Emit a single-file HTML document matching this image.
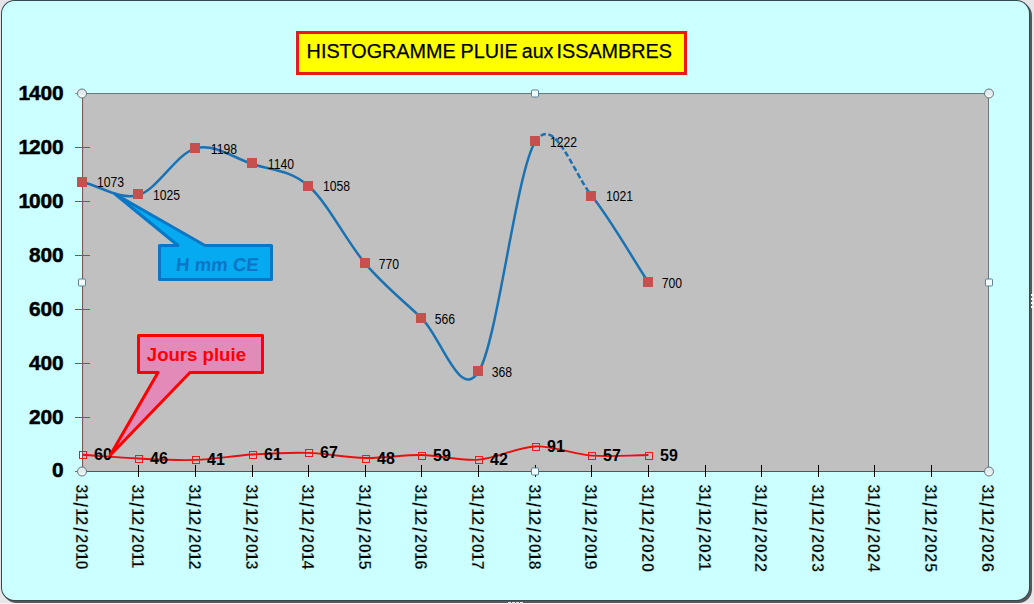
<!DOCTYPE html>
<html lang="fr"><head><meta charset="utf-8"><title>HISTOGRAMME PLUIE aux ISSAMBRES</title>
<style>
html,body{margin:0;padding:0;background:#e6e6e8;}
body{width:1034px;height:604px;overflow:hidden;position:relative;}
svg{position:absolute;left:0;top:0;display:block;}
text{font-family:"Liberation Sans",sans-serif;}
.ya{font-weight:bold;font-size:20.9px;fill:#000;stroke:#000;stroke-width:0.5px;}
.xa{font-weight:bold;font-size:16.4px;fill:#000;stroke:#ccffff;stroke-width:0.35px;}
.sl{font-size:19.5px;}
.bl{font-size:12.2px;fill:#000;}
.rl{font-size:16px;font-weight:bold;fill:#000;}
.tt{font-size:19.8px;fill:#000;stroke:#000;stroke-width:0.25px;}
</style></head><body>
<svg width="1034" height="604" viewBox="0 0 1034 604">

<defs><linearGradient id="hg" x1="0" y1="0" x2="0" y2="1"><stop offset="0" stop-color="#dfe9ec"/><stop offset="0.55" stop-color="#e4ecee"/><stop offset="1" stop-color="#ffffff"/></linearGradient></defs>
<rect x="0" y="0" width="1034" height="604" fill="#e6e6e8"/>
<rect x="0" y="603" width="1034" height="1" fill="#f4f4f4"/>
<rect x="3" y="2" width="1029" height="601" rx="13.5" ry="13.5" fill="#57575c"/>
<rect x="1" y="0" width="1029" height="601" rx="13.5" ry="13.5" fill="#33494e"/>
<rect x="2" y="1" width="1027" height="599" rx="12.5" ry="12.5" fill="#ccffff"/>
<rect x="83" y="94" width="905" height="377" fill="#c0c0c0"/>
<rect x="83" y="93" width="906" height="1" fill="#6a7878"/>
<rect x="988" y="93" width="1" height="379" fill="#6a7878"/>
<rect x="82" y="471" width="907" height="1" fill="#555"/>
<rect x="82" y="93" width="1" height="379" fill="#7a5858"/>
<rect x="83" y="94" width="1" height="377" fill="#c8b0b0"/>
<rect x="75" y="471" width="4" height="1" fill="#806868"/>
<text class="ya" x="51.94" y="476.9">0</text>
<rect x="75" y="417" width="15" height="1" fill="#d83030"/>
<text class="ya" x="28.94 40.44 51.94" y="423.9">200</text>
<rect x="75" y="363" width="15" height="1" fill="#d83030"/>
<text class="ya" x="28.94 40.44 51.94" y="369.9">400</text>
<rect x="75" y="309" width="15" height="1" fill="#d83030"/>
<text class="ya" x="28.94 40.44 51.94" y="315.9">600</text>
<rect x="75" y="255" width="15" height="1" fill="#d83030"/>
<text class="ya" x="28.94 40.44 51.94" y="261.9">800</text>
<rect x="75" y="201" width="15" height="1" fill="#d83030"/>
<text class="ya" x="18.44 28.94 40.44 51.94" y="207.9">1000</text>
<rect x="75" y="147" width="15" height="1" fill="#d83030"/>
<text class="ya" x="18.44 28.94 40.44 51.94" y="153.9">1200</text>
<rect x="75" y="93" width="4" height="1" fill="#d08080"/>
<text class="ya" x="18.44 28.94 40.44 51.94" y="99.9">1400</text>
<text class="xa" transform="translate(76.0 483.9) rotate(90)" x="0.24 8.59 18.14 23.99 32.34 43.14 50.24 59.84 68.19 76.54" y="0">31<tspan class="sl" dy="2.6">/</tspan><tspan dy="-2.6">12</tspan><tspan class="sl" dy="2.6">/</tspan><tspan dy="-2.6">2010</tspan></text>
<rect x="138" y="465" width="1" height="12" fill="#000"/>
<text class="xa" transform="translate(132.0 483.9) rotate(90)" x="0.24 8.59 18.14 23.99 32.34 43.14 50.24 59.84 68.19 75.29" y="0">31<tspan class="sl" dy="2.6">/</tspan><tspan dy="-2.6">12</tspan><tspan class="sl" dy="2.6">/</tspan><tspan dy="-2.6">2011</tspan></text>
<rect x="195" y="465" width="1" height="12" fill="#000"/>
<text class="xa" transform="translate(189.0 483.9) rotate(90)" x="0.24 8.59 18.14 23.99 32.34 43.14 50.24 59.84 68.19 76.54" y="0">31<tspan class="sl" dy="2.6">/</tspan><tspan dy="-2.6">12</tspan><tspan class="sl" dy="2.6">/</tspan><tspan dy="-2.6">2012</tspan></text>
<rect x="252" y="465" width="1" height="12" fill="#000"/>
<text class="xa" transform="translate(246.0 483.9) rotate(90)" x="0.24 8.59 18.14 23.99 32.34 43.14 50.24 59.84 68.19 76.54" y="0">31<tspan class="sl" dy="2.6">/</tspan><tspan dy="-2.6">12</tspan><tspan class="sl" dy="2.6">/</tspan><tspan dy="-2.6">2013</tspan></text>
<rect x="308" y="465" width="1" height="12" fill="#000"/>
<text class="xa" transform="translate(302.0 483.9) rotate(90)" x="0.24 8.59 18.14 23.99 32.34 43.14 50.24 59.84 68.19 76.54" y="0">31<tspan class="sl" dy="2.6">/</tspan><tspan dy="-2.6">12</tspan><tspan class="sl" dy="2.6">/</tspan><tspan dy="-2.6">2014</tspan></text>
<rect x="365" y="465" width="1" height="12" fill="#000"/>
<text class="xa" transform="translate(359.0 483.9) rotate(90)" x="0.24 8.59 18.14 23.99 32.34 43.14 50.24 59.84 68.19 76.54" y="0">31<tspan class="sl" dy="2.6">/</tspan><tspan dy="-2.6">12</tspan><tspan class="sl" dy="2.6">/</tspan><tspan dy="-2.6">2015</tspan></text>
<rect x="421" y="465" width="1" height="12" fill="#000"/>
<text class="xa" transform="translate(415.0 483.9) rotate(90)" x="0.24 8.59 18.14 23.99 32.34 43.14 50.24 59.84 68.19 76.54" y="0">31<tspan class="sl" dy="2.6">/</tspan><tspan dy="-2.6">12</tspan><tspan class="sl" dy="2.6">/</tspan><tspan dy="-2.6">2016</tspan></text>
<rect x="478" y="465" width="1" height="12" fill="#000"/>
<text class="xa" transform="translate(472.0 483.9) rotate(90)" x="0.24 8.59 18.14 23.99 32.34 43.14 50.24 59.84 68.19 76.54" y="0">31<tspan class="sl" dy="2.6">/</tspan><tspan dy="-2.6">12</tspan><tspan class="sl" dy="2.6">/</tspan><tspan dy="-2.6">2017</tspan></text>
<rect x="535" y="465" width="1" height="12" fill="#000"/>
<text class="xa" transform="translate(529.0 483.9) rotate(90)" x="0.24 8.59 18.14 23.99 32.34 43.14 50.24 59.84 68.19 76.54" y="0">31<tspan class="sl" dy="2.6">/</tspan><tspan dy="-2.6">12</tspan><tspan class="sl" dy="2.6">/</tspan><tspan dy="-2.6">2018</tspan></text>
<rect x="591" y="465" width="1" height="12" fill="#000"/>
<text class="xa" transform="translate(585.0 483.9) rotate(90)" x="0.24 8.59 18.14 23.99 32.34 43.14 50.24 59.84 68.19 76.54" y="0">31<tspan class="sl" dy="2.6">/</tspan><tspan dy="-2.6">12</tspan><tspan class="sl" dy="2.6">/</tspan><tspan dy="-2.6">2019</tspan></text>
<rect x="648" y="465" width="1" height="12" fill="#000"/>
<text class="xa" transform="translate(642.0 483.9) rotate(90)" x="0.24 8.59 18.14 23.99 32.34 43.14 50.24 59.84 69.44 79.04" y="0">31<tspan class="sl" dy="2.6">/</tspan><tspan dy="-2.6">12</tspan><tspan class="sl" dy="2.6">/</tspan><tspan dy="-2.6">2020</tspan></text>
<rect x="705" y="465" width="1" height="12" fill="#000"/>
<text class="xa" transform="translate(699.0 483.9) rotate(90)" x="0.24 8.59 18.14 23.99 32.34 43.14 50.24 59.84 69.44 77.79" y="0">31<tspan class="sl" dy="2.6">/</tspan><tspan dy="-2.6">12</tspan><tspan class="sl" dy="2.6">/</tspan><tspan dy="-2.6">2021</tspan></text>
<rect x="761" y="465" width="1" height="12" fill="#000"/>
<text class="xa" transform="translate(755.0 483.9) rotate(90)" x="0.24 8.59 18.14 23.99 32.34 43.14 50.24 59.84 69.44 79.04" y="0">31<tspan class="sl" dy="2.6">/</tspan><tspan dy="-2.6">12</tspan><tspan class="sl" dy="2.6">/</tspan><tspan dy="-2.6">2022</tspan></text>
<rect x="818" y="465" width="1" height="12" fill="#000"/>
<text class="xa" transform="translate(812.0 483.9) rotate(90)" x="0.24 8.59 18.14 23.99 32.34 43.14 50.24 59.84 69.44 79.04" y="0">31<tspan class="sl" dy="2.6">/</tspan><tspan dy="-2.6">12</tspan><tspan class="sl" dy="2.6">/</tspan><tspan dy="-2.6">2023</tspan></text>
<rect x="874" y="465" width="1" height="12" fill="#000"/>
<text class="xa" transform="translate(868.0 483.9) rotate(90)" x="0.24 8.59 18.14 23.99 32.34 43.14 50.24 59.84 69.44 79.04" y="0">31<tspan class="sl" dy="2.6">/</tspan><tspan dy="-2.6">12</tspan><tspan class="sl" dy="2.6">/</tspan><tspan dy="-2.6">2024</tspan></text>
<rect x="931" y="465" width="1" height="12" fill="#000"/>
<text class="xa" transform="translate(925.0 483.9) rotate(90)" x="0.24 8.59 18.14 23.99 32.34 43.14 50.24 59.84 69.44 79.04" y="0">31<tspan class="sl" dy="2.6">/</tspan><tspan dy="-2.6">12</tspan><tspan class="sl" dy="2.6">/</tspan><tspan dy="-2.6">2025</tspan></text>
<text class="xa" transform="translate(982.0 483.9) rotate(90)" x="0.24 8.59 18.14 23.99 32.34 43.14 50.24 59.84 69.44 79.04" y="0">31<tspan class="sl" dy="2.6">/</tspan><tspan dy="-2.6">12</tspan><tspan class="sl" dy="2.6">/</tspan><tspan dy="-2.6">2026</tspan></text>
<path d="M82.20 182.02 C101.07 186.32 119.95 200.55 138.82 194.94 C157.70 189.33 176.57 153.52 195.45 148.36 C214.32 143.19 233.20 157.69 252.07 163.97 C270.95 170.26 289.82 169.45 308.70 186.06 C327.57 202.66 346.45 241.53 365.32 263.61 C384.20 285.69 403.07 300.50 421.95 318.54 C440.82 336.59 459.70 401.30 478.57 371.86 C497.45 342.42 516.33 171.20 535.20 141.89" fill="none" stroke="#1b72b2" stroke-width="2.5" stroke-linecap="round"/>
<path d="M535.20 141.89 C554.08 112.59 572.95 172.59 591.83 196.02" fill="none" stroke="#1b72b2" stroke-width="2.5" stroke-dasharray="5.6 2.6"/>
<path d="M591.83 196.02 C610.70 219.45 629.58 253.65 648.45 282.46" fill="none" stroke="#1b72b2" stroke-width="2.5" stroke-linecap="round"/>
<rect x="77" y="177" width="10" height="10" fill="#c6504d"/>
<text class="bl" text-anchor="end" transform="translate(124.0 186.9) scale(1 1.13)">1073</text>
<rect x="133" y="189" width="10" height="10" fill="#c6504d"/>
<text class="bl" text-anchor="end" transform="translate(180.0 199.9) scale(1 1.13)">1025</text>
<rect x="190" y="143" width="10" height="10" fill="#c6504d"/>
<text class="bl" text-anchor="end" transform="translate(237.0 153.9) scale(1 1.13)">1198</text>
<rect x="247" y="158" width="10" height="10" fill="#c6504d"/>
<text class="bl" text-anchor="end" transform="translate(294.0 168.9) scale(1 1.13)">1140</text>
<rect x="303" y="181" width="10" height="10" fill="#c6504d"/>
<text class="bl" text-anchor="end" transform="translate(350.0 190.9) scale(1 1.13)">1058</text>
<rect x="360" y="258" width="10" height="10" fill="#c6504d"/>
<text class="bl" text-anchor="end" transform="translate(399.0 268.9) scale(1 1.13)">770</text>
<rect x="416" y="313" width="10" height="10" fill="#c6504d"/>
<text class="bl" text-anchor="end" transform="translate(455.0 323.9) scale(1 1.13)">566</text>
<rect x="473" y="366" width="10" height="10" fill="#c6504d"/>
<text class="bl" text-anchor="end" transform="translate(512.0 376.9) scale(1 1.13)">368</text>
<rect x="530" y="136" width="10" height="10" fill="#c6504d"/>
<text class="bl" text-anchor="end" transform="translate(577.0 146.9) scale(1 1.13)">1222</text>
<rect x="586" y="191" width="10" height="10" fill="#c6504d"/>
<text class="bl" text-anchor="end" transform="translate(633.0 200.9) scale(1 1.13)">1021</text>
<rect x="643" y="277" width="10" height="10" fill="#c6504d"/>
<text class="bl" text-anchor="end" transform="translate(682.0 287.9) scale(1 1.13)">700</text>
<path d="M82.20 454.80 C101.07 456.06 119.95 457.72 138.82 458.57 C157.70 459.43 176.57 460.59 195.45 459.92 C214.32 459.25 233.20 455.70 252.07 454.53 C270.95 453.37 289.82 452.33 308.70 452.92 C327.57 453.50 346.45 457.68 365.32 458.03 C384.20 458.39 403.07 454.80 421.95 455.07 C440.82 455.34 459.70 461.09 478.57 459.65 C497.45 458.21 516.33 447.13 535.20 446.45 C554.08 445.78 572.95 454.17 591.83 455.61 C610.70 457.05 629.58 455.25 648.45 455.07" fill="none" stroke="#e80f0f" stroke-width="1.9"/>
<rect x="79.5" y="451.5" width="7" height="7" fill="none" stroke="#f01818" stroke-width="1"/>
<text class="rl" transform="translate(94.0 460.0) scale(1 1.03)">60</text>
<rect x="135.5" y="455.5" width="7" height="7" fill="none" stroke="#f01818" stroke-width="1"/>
<text class="rl" transform="translate(150.0 464.0) scale(1 1.03)">46</text>
<rect x="192.5" y="456.5" width="7" height="7" fill="none" stroke="#f01818" stroke-width="1"/>
<text class="rl" transform="translate(207.0 465.0) scale(1 1.03)">41</text>
<rect x="249.5" y="451.5" width="7" height="7" fill="none" stroke="#f01818" stroke-width="1"/>
<text class="rl" transform="translate(264.0 460.0) scale(1 1.03)">61</text>
<rect x="305.5" y="449.5" width="7" height="7" fill="none" stroke="#f01818" stroke-width="1"/>
<text class="rl" transform="translate(320.0 458.0) scale(1 1.03)">67</text>
<rect x="362.5" y="455.5" width="7" height="7" fill="none" stroke="#f01818" stroke-width="1"/>
<text class="rl" transform="translate(377.0 464.0) scale(1 1.03)">48</text>
<rect x="418.5" y="452.5" width="7" height="7" fill="none" stroke="#f01818" stroke-width="1"/>
<text class="rl" transform="translate(433.0 461.0) scale(1 1.03)">59</text>
<rect x="475.5" y="456.5" width="7" height="7" fill="none" stroke="#f01818" stroke-width="1"/>
<text class="rl" transform="translate(490.0 465.0) scale(1 1.03)">42</text>
<rect x="532.5" y="443.5" width="7" height="7" fill="none" stroke="#f01818" stroke-width="1"/>
<text class="rl" transform="translate(547.0 452.0) scale(1 1.03)">91</text>
<rect x="588.5" y="452.5" width="7" height="7" fill="none" stroke="#f01818" stroke-width="1"/>
<text class="rl" transform="translate(603.0 461.0) scale(1 1.03)">57</text>
<rect x="645.5" y="452.5" width="7" height="7" fill="none" stroke="#f01818" stroke-width="1"/>
<text class="rl" transform="translate(660.0 461.0) scale(1 1.03)">59</text>
<path d="M159.5 245.5 L178 245.5 L115 194 L205 245.5 L271.5 245.5 L271.5 279.5 L159.5 279.5 Z" fill="#06aaf0" stroke="#0a76c6" stroke-width="3" stroke-linejoin="round"/>
<text transform="translate(216.9 271.2) skewX(-5)" text-anchor="middle" style="font-size:18.6px;font-weight:bold;fill:#0a76c6;">H mm CE</text>
<path d="M138.5 335.5 L262.5 335.5 L262.5 372.5 L190 372.5 L110.2 455.2 L158 372.5 L138.5 372.5 Z" fill="#e28bb9" stroke="#ff0000" stroke-width="3" stroke-linejoin="round"/>
<text x="196.4" y="361" text-anchor="middle" style="font-size:18.6px;font-weight:bold;fill:#ff0000;">Jours pluie</text>
<rect x="297.5" y="32.5" width="388" height="41" fill="#ffff00" stroke="#e8181c" stroke-width="3"/>
<text class="tt" x="306.6" y="58.3">HISTOGRAMME</text>
<text class="tt" x="460.6" y="58.3">PLUIE</text>
<text class="tt" x="521.8" y="58.3" style="font-size:19.6px">aux</text>
<text class="tt" x="556.5" y="58.3">ISSAMBRES</text>
<circle cx="82.0" cy="93.5" r="4.5" fill="url(#hg)" stroke="#5f7478" stroke-width="1"/>
<circle cx="989.0" cy="93.5" r="4.5" fill="url(#hg)" stroke="#5f7478" stroke-width="1"/>
<circle cx="82.0" cy="471.5" r="4.5" fill="url(#hg)" stroke="#5f7478" stroke-width="1"/>
<circle cx="989.0" cy="471.5" r="4.5" fill="url(#hg)" stroke="#5f7478" stroke-width="1"/>
<rect x="531.5" y="90.0" width="7" height="7" rx="1" fill="#eefcff" stroke="#5c8296" stroke-width="1"/>
<rect x="531.5" y="468.0" width="7" height="7" rx="1" fill="#eefcff" stroke="#5c8296" stroke-width="1"/>
<rect x="78.5" y="279.0" width="7" height="7" rx="1" fill="#eefcff" stroke="#5c8296" stroke-width="1"/>
<rect x="985.5" y="279.0" width="7" height="7" rx="1" fill="#eefcff" stroke="#5c8296" stroke-width="1"/>
<rect x="1031" y="294" width="3" height="2" fill="#f4f4f4"/>
<rect x="1031" y="298" width="3" height="2" fill="#f4f4f4"/>
<rect x="1031" y="302" width="3" height="2" fill="#f4f4f4"/>
<rect x="1031" y="306" width="3" height="2" fill="#f4f4f4"/>
<rect x="508" y="602" width="3" height="2" fill="#e4e0e4"/>
<rect x="512" y="602" width="3" height="2" fill="#e4e0e4"/>
<rect x="516" y="602" width="3" height="2" fill="#e4e0e4"/>
<rect x="520" y="602" width="3" height="2" fill="#e4e0e4"/>
</svg></body></html>
